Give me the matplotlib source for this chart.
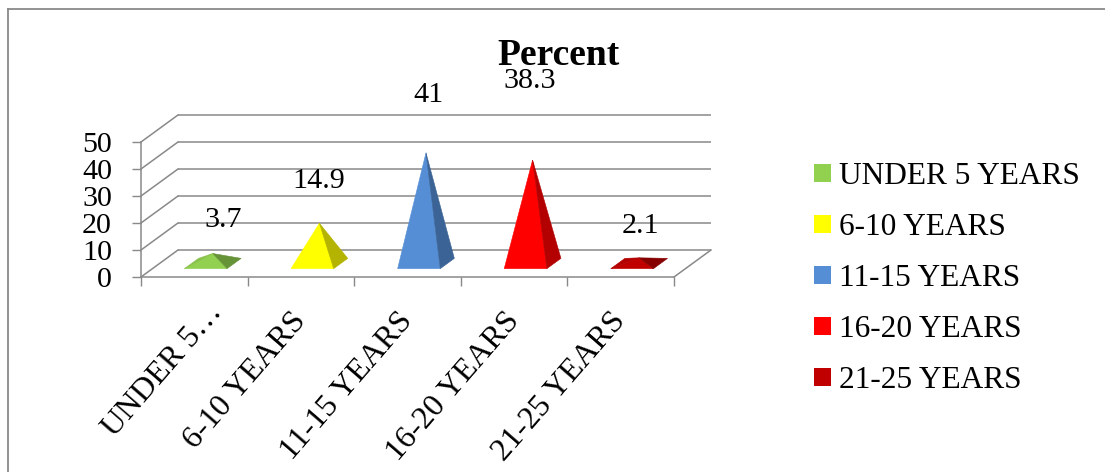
import matplotlib
matplotlib.use("Agg")
import matplotlib.pyplot as plt
from matplotlib.patches import Patch
from matplotlib.lines import Line2D
from matplotlib.colors import to_rgb
import numpy as np

# ---- data -------------------------------------------------------------
categories = ["UNDER 5 YEARS", "6-10 YEARS", "11-15 YEARS", "16-20 YEARS", "21-25 YEARS"]
axis_labels = ["UNDER 5\u2026", "6-10 YEARS", "11-15 YEARS", "16-20 YEARS", "21-25 YEARS"]
percent = [3.7, 14.9, 41, 38.3, 2.1]
y_ticks = [0, 10, 20, 30, 40, 50]
title = "Percent"

# ---- style ------------------------------------------------------------
face_colors = ["#92D050", "#FFFF00", "#558ED5", "#FF0000", "#C00000"]
grey = "#898989"
serif = ["Liberation Serif", "DejaVu Serif"]
plt.rcParams["font.family"] = serif

# oblique depth: the full floor depth shifts by DX categories and DZ value units
DX, DZ = 0.347, 10.0
HALF_W = 0.2          # half base width of a pyramid (category units)
D0, D1 = 0.31, 0.69   # depth span of a pyramid base (fraction of floor depth)
shade = {"front": 1.0, "right": 0.7, "back": 0.82, "left": 0.93}

# value-label offsets above each apex, pixels
value_label_offset = [(10, 26.5), (-1, 35.4), (3, 50.8), (-2.6, 72), (1, 24.8)]
# category-label offsets from each category centre, pixels
cat_label_offset = [(28.5, -36), (6, -44), (6, -44), (6, -44), (6, -44)]

W, H = 1105, 472
fig = plt.figure(figsize=(W / 100, H / 100), dpi=100)
fig.patch.set_facecolor("white")

# front plane of the plot area: x -0.5..4.5 -> 141..674 px, y 0..50 -> 277..142 px
ax = fig.add_axes([141 / W, (H - 277) / H, (674 - 141) / W, 135 / H])
ax.set_xlim(-0.5, len(categories) - 0.5)
ax.set_ylim(0, 50)
ax.patch.set_alpha(0)


def proj(x, d, z):
    return x + d * DX, z + d * DZ


# walls: back-wall gridlines, side-wall diagonals and the floor's right edge
x_lo, x_hi = -0.5, len(categories) - 0.5
for z in y_ticks:
    ax.plot([x_lo + DX, x_hi + DX], [z + DZ, z + DZ], color=grey, lw=1.1,
            clip_on=False, zorder=1, solid_capstyle="butt")
    ax.plot([x_lo, x_lo + DX], [z, z + DZ], color=grey, lw=1.1,
            clip_on=False, zorder=1)
ax.plot([x_hi, x_hi + DX], [0, DZ], color=grey, lw=1.1, clip_on=False, zorder=1)


def shaded(color, k):
    r, g, b = to_rgb(color)
    return (r * k, g * k, b * k)


def signed_area(pts):
    p = np.asarray(pts)
    x, y = p[:, 0], p[:, 1]
    return 0.5 * np.sum(x * np.roll(y, -1) - np.roll(x, -1) * y)


# pyramids
for i, (v, col) in enumerate(zip(percent, face_colors)):
    fl = proj(i - HALF_W, D0, 0)
    fr = proj(i + HALF_W, D0, 0)
    br = proj(i + HALF_W, D1, 0)
    bl = proj(i - HALF_W, D1, 0)
    apex = proj(i, 0.5, v)
    faces = {"front": [fl, fr, apex], "right": [fr, br, apex],
             "back": [br, bl, apex], "left": [bl, fl, apex]}
    for name, pts in faces.items():
        if signed_area(pts) <= 0:
            continue
        c = shaded(col, shade[name])
        xs, ys = zip(*pts)
        ax.fill(xs, ys, facecolor=c, edgecolor=c, lw=0.4, clip_on=False, zorder=3)
    dx, dy = value_label_offset[i]
    ax.annotate(f"{v:g}", xy=apex, xytext=(dx, dy), textcoords="offset pixels",
                ha="center", va="baseline", fontsize=21.6, zorder=5,
                annotation_clip=False)

# axes
for s in ("top", "right"):
    ax.spines[s].set_visible(False)
for s in ("left", "bottom"):
    ax.spines[s].set_color(grey)
    ax.spines[s].set_linewidth(1.1)
    ax.spines[s].set_zorder(2)

ax.set_yticks(y_ticks)
ax.set_yticklabels([str(t) for t in y_ticks])
ax.tick_params(axis="y", length=6.5, width=1.0, color=grey, pad=14.4,
               labelsize=21.6, labelcolor="black")
ax.set_xticks(np.arange(-0.5, len(categories), 1.0))
ax.set_xticklabels([])
ax.tick_params(axis="x", length=6.5, width=1.0, color=grey)

for i, lab in enumerate(axis_labels):
    dx, dy = cat_label_offset[i]
    ax.annotate(lab, xy=(i, 0), xytext=(dx, dy), textcoords="offset pixels",
                rotation=49, rotation_mode="anchor", ha="right", va="baseline",
                fontsize=23, annotation_clip=False)

# title
fig.text(558 / W, 1 - 65 / H, title, ha="center", va="baseline",
         fontsize=27, fontweight="bold")

# legend
handles = [Patch(facecolor=c, edgecolor="none") for c in face_colors]
fig.legend(handles, categories, loc="upper left",
           bbox_to_anchor=(814 / W, 1 - 162 / H), frameon=False, fontsize=22.6,
           handlelength=0.53, handleheight=0.53, handletextpad=0.27,
           labelspacing=0.7, borderpad=0, borderaxespad=0)

# chart-area border (left and top edges)
fig.add_artist(Line2D([7.5 / W, 7.5 / W], [0, 1 - 8.5 / H], transform=fig.transFigure,
                      color=grey, lw=1.3))
fig.add_artist(Line2D([7.5 / W, 1], [1 - 8.5 / H, 1 - 8.5 / H], transform=fig.transFigure,
                      color=grey, lw=1.3))

fig.savefig("out.png", dpi=100)
